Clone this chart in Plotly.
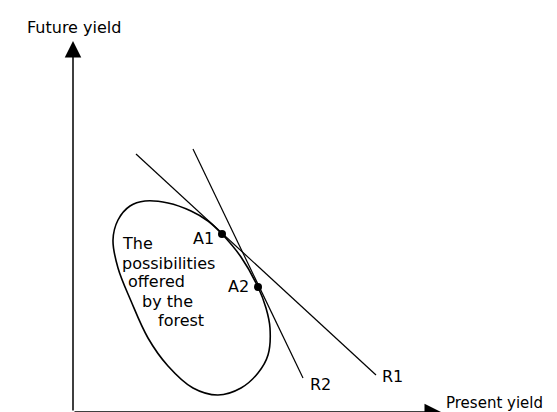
import plotly.graph_objects as go

# Feasible yield set of the forest (present yield, future yield), traced clockwise
forest_x = [72, 95, 118, 135, 149, 168, 185, 193, 197, 195, 185, 168, 145, 120, 95, 75, 58, 45, 40, 45, 57, 72]
forest_y = [211, 209, 201, 191, 178, 155, 125, 104, 84, 57, 39, 24, 17, 24, 46, 74, 111, 144, 172, 192, 206, 211]

# Price lines (start and end points)
r1_x = [63, 303]
r1_y = [258, 37]
r2_x = [120, 230]
r2_y = [263, 34]

# Tangency points
point_names = ["A1", "A2"]
point_x = [149, 185]
point_y = [178, 125]

# Labels next to the points / lines
label_text = ["A1", "A2", "R1", "R2"]
label_x = [143, 178, 307, 235]
label_y = [174, 126, 36, 28]
label_anchor = ["right", "right", "left", "left"]

note_lines = ["The", "possibilities", "offered", "by the", "forest"]
note_x = [47, 47, 53, 67, 83]
note_y = [169, 149, 131, 111, 92]

x_top = 368
y_top = 371

FONT = dict(family="DejaVu Sans", size=16, color="black")

fig = go.Figure()

fig.add_trace(go.Scatter(x=forest_x, y=forest_y, mode="lines",
                         line=dict(color="black", width=1.6, shape="spline", smoothing=1.0),
                         hoverinfo="skip"))
fig.add_trace(go.Scatter(x=r1_x, y=r1_y, mode="lines",
                         line=dict(color="black", width=1.2), hoverinfo="skip"))
fig.add_trace(go.Scatter(x=r2_x, y=r2_y, mode="lines",
                         line=dict(color="black", width=1.2), hoverinfo="skip"))
fig.add_trace(go.Scatter(x=point_x, y=point_y, mode="markers", text=point_names,
                         marker=dict(color="black", size=8), hoverinfo="text"))

# Axes drawn as arrows
fig.add_annotation(x=0, y=y_top, ax=0, ay=0, xref="x", yref="y", axref="x", ayref="y",
                   showarrow=True, arrowhead=2, arrowsize=2.2, arrowwidth=1.5,
                   arrowcolor="black", text="")
fig.add_annotation(x=x_top, y=0, ax=0, ay=0, xref="x", yref="y", axref="x", ayref="y",
                   showarrow=True, arrowhead=2, arrowsize=2.2, arrowwidth=1.5,
                   arrowcolor="black", text="")

fig.add_annotation(x=-48, y=385, text="Future yield", showarrow=False,
                   xanchor="left", font=FONT)
fig.add_annotation(x=x_top + 3, y=9, text="Present yield", showarrow=False,
                   xanchor="left", font=dict(FONT, size=15))

for t, lx, ly, anc in zip(label_text, label_x, label_y, label_anchor):
    fig.add_annotation(x=lx, y=ly, text=t, showarrow=False, xanchor=anc, font=FONT)

for t, lx, ly in zip(note_lines, note_x, note_y):
    fig.add_annotation(x=lx, y=ly, text=t, showarrow=False, xanchor="left", font=FONT)

fig.update_layout(
    width=557,
    height=412,
    margin=dict(l=0, r=0, t=0, b=0),
    paper_bgcolor="white",
    plot_bgcolor="white",
    showlegend=False,
    xaxis=dict(range=[-65, 492], visible=False),
    yaxis=dict(range=[-8, 404], visible=False),
)

fig.write_html("out.html")
